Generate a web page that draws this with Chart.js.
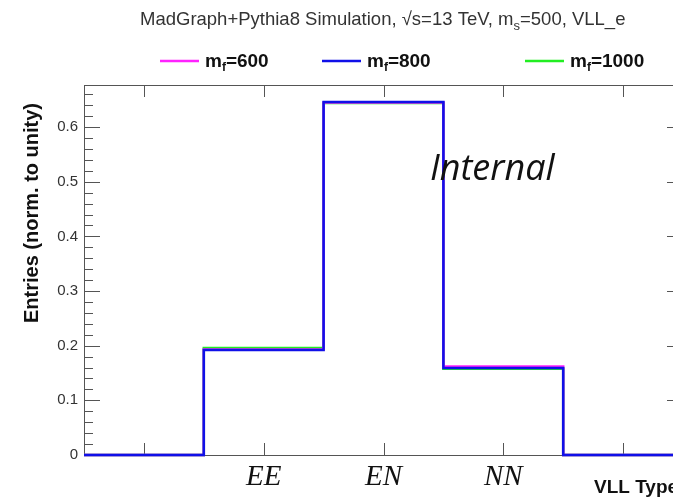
<!DOCTYPE html>
<html>
<head>
<meta charset="utf-8">
<script src="https://cdn.jsdelivr.net/npm/chart.js@4/dist/chart.umd.min.js"></script>
<style>
  html, body { margin: 0; padding: 0; background: #fff; overflow: hidden; }
  #wrap { width: 700px; height: 501px; }
</style>
</head>
<body>
<div id="wrap"><canvas id="c"></canvas></div>
<script>
// bin labels (empty bins at both ends)
const categories = ['', 'EE', 'EN', 'NN', ''];
// normalised entries per bin
const m600 = [0, 0.193, 0.645, 0.162, 0];
const m800 = [0, 0.192, 0.646, 0.159, 0];
const m1000 = [0, 0.196, 0.644, 0.158, 0];
const yTicks = [0, 0.1, 0.2, 0.3, 0.4, 0.5, 0.6];
const yMax = 0.677;

// turn bin contents into a histogram outline
function outline(vals) {
    const pts = [];
    vals.forEach((v, i) => {
        pts.push({ x: i, y: v });
        pts.push({ x: i + 1, y: v });
    });
    return pts;
}

function histo(label, vals, color) {
    return {
        label: label,
        data: outline(vals),
        borderColor: color,
        borderWidth: 2.5,
        pointRadius: 0,
        fill: false,
        tension: 0,
        clip: 5
    };
}

const SANS = '"Liberation Sans", Arial, Helvetica, sans-serif';

// text with a subscript piece, e.g. m_f
function subText(ctx, parts, x, y, font, subFont, drop) {
    let cx = x;
    parts.forEach(p => {
        ctx.font = p.sub ? subFont : font;
        ctx.fillText(p.t, cx, y + (p.sub ? drop : 0));
        cx += ctx.measureText(p.t).width;
    });
}

// ROOT-like frame, ticks and text
const rootStyle = {
    id: 'rootStyle',
    beforeDatasetsDraw(chart) {
        const { ctx, chartArea: a, scales: { x, y } } = chart;
        ctx.save();
        ctx.strokeStyle = '#555';
        ctx.lineWidth = 1;
        ctx.strokeRect(a.left + 0.5, a.top + 0.5, a.right - a.left, a.bottom - a.top);

        // y ticks, both sides
        ctx.beginPath();
        for (let k = 0; k * 0.02 <= yMax + 1e-9; k++) {
            const py = Math.round(y.getPixelForValue(k * 0.02)) + 0.5;
            const len = k % 5 === 0 ? 16 : 9;
            ctx.moveTo(a.left, py); ctx.lineTo(a.left + len, py);
            ctx.moveTo(a.right, py); ctx.lineTo(a.right - len, py);
        }
        // x ticks at bin centres
        categories.forEach((c, i) => {
            const px = Math.round(x.getPixelForValue(i + 0.5)) + 0.5;
            ctx.moveTo(px, a.bottom); ctx.lineTo(px, a.bottom - 12);
            ctx.moveTo(px, a.top); ctx.lineTo(px, a.top + 12);
        });
        ctx.stroke();

        // y tick labels
        ctx.fillStyle = '#333';
        ctx.font = '15px ' + SANS;
        ctx.textAlign = 'right';
        ctx.textBaseline = 'middle';
        yTicks.forEach(v => {
            ctx.fillText(String(v), a.left - 6, y.getPixelForValue(v));
        });

        // bin labels
        ctx.fillStyle = '#111';
        ctx.font = 'italic 29px "Liberation Serif", "Times New Roman", serif';
        ctx.textAlign = 'center';
        categories.forEach((c, i) => {
            if (c) ctx.fillText(c, x.getPixelForValue(i + 0.5), a.bottom + 22);
        });

        // axis titles
        ctx.font = 'bold 19px ' + SANS;
        ctx.textAlign = 'left';
        ctx.fillText('VLL Type', 594, 488);
        ctx.save();
        ctx.translate(32, 213);
        ctx.rotate(-Math.PI / 2);
        ctx.textAlign = 'center';
        ctx.font = 'bold 20px ' + SANS;
        ctx.fillText('Entries (norm. to unity)', 0, 0);
        ctx.restore();

        // title
        ctx.fillStyle = '#333';
        ctx.textAlign = 'left';
        ctx.textBaseline = 'alphabetic';
        subText(ctx, [
            { t: 'MadGraph+Pythia8 Simulation, \u221As=13 TeV, m' },
            { t: 's', sub: true },
            { t: '=500, VLL_e' }
        ], 140, 25, '18.5px ' + SANS, '13px ' + SANS, 5);

        // legend
        const items = [
            { c: '#ff22ff', x: 160, v: '600' },
            { c: '#1010e8', x: 322, v: '800' },
            { c: '#22ee22', x: 525, v: '1000' }
        ];
        items.forEach(it => {
            ctx.strokeStyle = it.c;
            ctx.lineWidth = 2.5;
            ctx.beginPath();
            ctx.moveTo(it.x, 61); ctx.lineTo(it.x + 39, 61);
            ctx.stroke();
            ctx.fillStyle = '#111';
            subText(ctx, [
                { t: 'm' }, { t: 'f', sub: true }, { t: '=' + it.v }
            ], it.x + 45, 67, 'bold 19px ' + SANS, 'bold 12px ' + SANS, 4);
        });
        ctx.restore();
    },
    afterDatasetsDraw(chart) {
        const { ctx } = chart;
        ctx.save();
        ctx.fillStyle = '#111';
        ctx.font = 'italic 36px "Open Sans", Lato, sans-serif';
        ctx.textAlign = 'left';
        ctx.textBaseline = 'middle';
        ctx.fillText('Internal', 430, 170);
        ctx.restore();
    }
};

new Chart(document.getElementById('c'), {
    type: 'line',
    data: {
        datasets: [
            histo('m_f=1000', m1000, '#22ee22'),
            histo('m_f=600', m600, '#ff22ff'),
            histo('m_f=800', m800, '#1010e8')
        ].reverse()
    },
    options: {
        responsive: true,
        maintainAspectRatio: false,
        animation: false,
        layout: { padding: { left: 84, top: 85, right: 17, bottom: 46 } },
        plugins: { legend: { display: false }, tooltip: { enabled: false } },
        scales: {
            x: { type: 'linear', min: 0, max: categories.length, display: false },
            y: { type: 'linear', min: 0, max: yMax, display: false }
        }
    },
    plugins: [rootStyle]
});
</script>
</body>
</html>
